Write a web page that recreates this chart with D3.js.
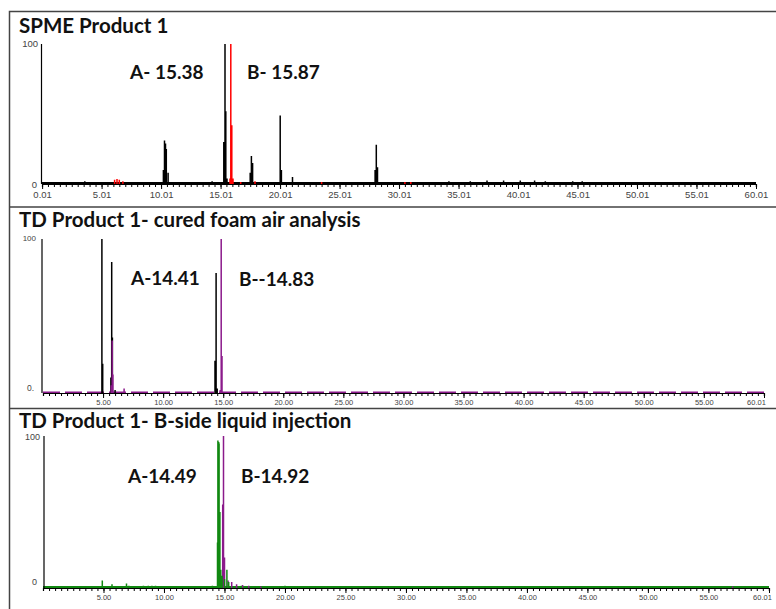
<!DOCTYPE html>
<html>
<head>
<meta charset="utf-8">
<script src="https://cdn.jsdelivr.net/npm/d3@7"></script>
<style>
  html, body { margin: 0; padding: 0; background: #fff; }
  svg { display: block; }
</style>
</head>
<body>
<svg id="chart"></svg>
<script>
// retention time (min), relative abundance (%)
const spmeBlack = [
  [1.8, 1.5], [3.6, 2], [4.3, 1.5], [7.6, 1], [9.0, 1.5], [10.2, 10], [10.3, 31], [10.38, 29],
  [10.45, 25], [10.6, 8], [12.2, 1.5], [13.4, 1.5], [14.3, 2], [15.28, 30], [15.38, 100],
  [15.45, 52], [15.55, 4], [17.5, 8], [17.6, 20], [17.7, 15], [18.6, 1.5], [19.5, 1.5],
  [20.02, 49], [20.12, 10], [21.05, 5], [22.4, 1.5], [24.1, 1], [26.3, 1.5], [28.0, 10],
  [28.1, 28], [28.2, 12], [30.2, 1.5], [32.6, 1.5], [34.2, 2], [36.0, 2], [37.4, 2.5],
  [38.8, 2.5], [40.2, 2.5], [41.4, 2.5], [42.3, 2], [44.6, 2], [45.4, 2]
];
const spmeRed = [
  [6.1, 3], [6.3, 3.5], [6.5, 3], [6.8, 2], [15.8, 4], [15.87, 100], [15.95, 42],
  [16.05, 4], [16.7, 1.5], [17.9, 2], [23.5, 1.5], [30.5, 1.5], [31.0, 1.5]
];
const foamBlack = [
  [4.9, 100], [4.97, 19], [5.65, 10], [5.72, 85], [5.78, 36], [6.0, 2], [14.32, 21],
  [14.41, 78], [14.5, 3]
];
const foamPurple = [
  [5.68, 5], [5.76, 34], [5.82, 12], [6.75, 3], [14.75, 2], [14.83, 100], [14.9, 24]
];
const liquidGreen = [
  [4.9, 5], [5.7, 2.5], [6.9, 3], [7.1, 1.5], [8.3, 1.5], [8.7, 1.5], [9.0, 1.5], [9.3, 1.5],
  [13.5, 1], [14.0, 1.5], [14.42, 30], [14.46, 97], [14.52, 96], [14.56, 95], [14.62, 50],
  [14.7, 12], [14.8, 8], [15.0, 6], [15.2, 12], [15.35, 4], [16.4, 1.5], [20.0, 1.5]
];
const liquidPurple = [
  [14.85, 55], [14.92, 100], [15.0, 20], [15.3, 5], [15.6, 4], [16.0, 2.5], [16.5, 2],
  [17.0, 1.5], [18.0, 1], [57.0, 1]
];

const spmeTicks = [0.01, 5.01, 10.01, 15.01, 20.01, 25.01, 30.01, 35.01, 40.01, 45.01, 50.01, 55.01, 60.01];
const tdTicks = [5, 10, 15, 20, 25, 30, 35, 40, 45, 50, 55, 60.01];

const panels = [
  {
    title: 'SPME Product 1', titleY: 33,
    x0: 42, x1: 756, yTop: 44, yBase: 184, yAxisX: 41.5,
    ticks: spmeTicks, tickFont: 9.5, lastShift: 0,
    yLabels: [{ t: '100', y: 47, x: 38, s: 9.5 }, { t: '0', y: 188, x: 37, s: 9.5 }],
    baseline: { color: '#000', width: 3, dash: null },
    series: [{ data: spmeBlack, color: '#000' }, { data: spmeRed, color: '#ff0000' }],
    notes: [{ t: 'A- 15.38', x: 130, y: 79 }, { t: 'B- 15.87', x: 247, y: 79 }]
  },
  {
    title: 'TD Product 1- cured foam air analysis', titleY: 227,
    x0: 43, x1: 764, yTop: 239, yBase: 393, yAxisX: 42,
    ticks: tdTicks, tickFont: 7.5, lastShift: -8,
    yLabels: [{ t: '100', y: 241, x: 36, s: 8 }, { t: '0.', y: 391, x: 34, s: 8.5 }],
    baseline: { color: '#8b1a8b', width: 2, dash: '17,5' },
    series: [{ data: foamBlack, color: '#000' }, { data: foamPurple, color: '#8b1a8b' }],
    notes: [{ t: 'A-14.41', x: 131, y: 285 }, { t: 'B--14.83', x: 239, y: 286 }]
  },
  {
    title: 'TD Product 1- B-side liquid injection', titleY: 428,
    x0: 43, x1: 769, yTop: 436, yBase: 588, yAxisX: 44,
    ticks: tdTicks, tickFont: 7.5, lastShift: -7,
    yLabels: [{ t: '100', y: 440, x: 40, s: 9 }, { t: '0', y: 585, x: 37, s: 9 }],
    baseline: { color: '#118811', width: 3, dash: null },
    series: [{ data: liquidPurple, color: '#8b1a8b' }, { data: liquidGreen, color: '#118811' }],
    notes: [{ t: 'A-14.49', x: 128, y: 483 }, { t: 'B-14.92', x: 241, y: 483 }]
  }
];

const width = 776, height = 609;
const svg = d3.select('#chart').attr('width', width).attr('height', height);

// frame and separators
svg.append('path')
  .attr('d', `M9.5,${height} V11.5 H${width} M9.5,207 H${width} M9.5,408.5 H${width}`)
  .attr('fill', 'none').attr('stroke', '#444').attr('stroke-width', 1.5);

panels.forEach(p => {
  const x = d3.scaleLinear().domain([0, 60.01]).range([p.x0, p.x1]);
  const y = d3.scaleLinear().domain([0, 100]).range([p.yBase, p.yTop]);
  const g = svg.append('g');

  g.append('text')
    .attr('x', 19).attr('y', p.titleY)
    .attr('font-family', 'Lato, sans-serif').attr('font-weight', 700)
    .attr('font-size', 20.5).attr('fill', '#111')
    .text(p.title);

  // baseline trace
  g.append('line')
    .attr('x1', x(0)).attr('x2', x(60.01))
    .attr('y1', y(0) - 0.5).attr('y2', y(0) - 0.5)
    .attr('stroke', p.baseline.color).attr('stroke-width', p.baseline.width)
    .attr('stroke-dasharray', p.baseline.dash);

  // peaks as sticks
  p.series.forEach(s => {
    g.append('path')
      .attr('d', s.data.map(d => `M${x(d[0]).toFixed(1)},${y(0)}V${y(d[1]).toFixed(1)}`).join(''))
      .attr('fill', 'none').attr('stroke', s.color).attr('stroke-width', 1.5);
  });

  // x axis: minor ticks then labelled ticks
  g.append('g')
    .attr('transform', `translate(0,${p.yBase})`)
    .call(d3.axisBottom(x).tickValues(d3.range(0.5, 60.01, 0.5)).tickSize(3).tickFormat(''))
    .call(a => a.select('.domain').attr('stroke', '#000').attr('stroke-width', 1.2));

  const last = p.ticks[p.ticks.length - 1];
  g.append('g')
    .attr('transform', `translate(0,${p.yBase})`)
    .call(d3.axisBottom(x).tickValues(p.ticks).tickSize(5).tickFormat(d => d.toFixed(2)).tickPadding(2))
    .call(a => a.select('.domain').remove())
    .call(a => a.selectAll('text')
      .attr('font-family', 'Liberation Sans, Arial, sans-serif')
      .attr('font-size', p.tickFont).attr('fill', '#444')
      .attr('dx', d => d === last ? p.lastShift : 0));

  // y axis line
  g.append('line')
    .attr('x1', p.yAxisX).attr('x2', p.yAxisX)
    .attr('y1', y(100)).attr('y2', y(0))
    .attr('stroke', '#000').attr('stroke-width', 1.2);

  g.selectAll('.ylab').data(p.yLabels).join('text')
    .attr('x', d => d.x).attr('y', d => d.y)
    .attr('text-anchor', 'end')
    .attr('font-family', 'Liberation Sans, Arial, sans-serif')
    .attr('font-size', d => d.s).attr('fill', '#444')
    .text(d => d.t);

  g.selectAll('.note').data(p.notes).join('text')
    .attr('x', d => d.x).attr('y', d => d.y)
    .attr('font-family', 'Lato, sans-serif').attr('font-weight', 700)
    .attr('font-size', 19).attr('fill', '#111')
    .text(d => d.t);
});
</script>
</body>
</html>
